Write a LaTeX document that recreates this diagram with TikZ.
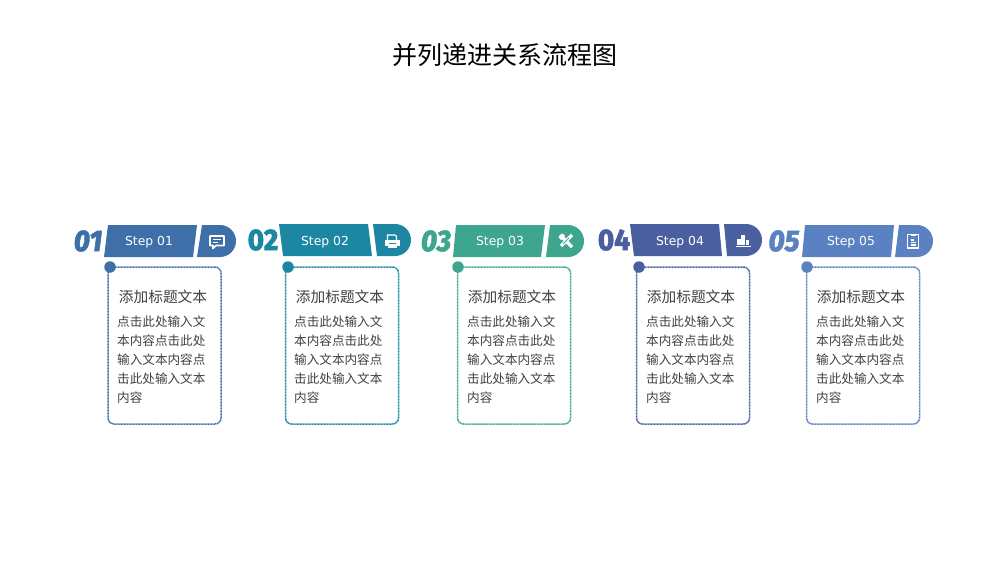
\documentclass[tikz,border=0pt]{standalone}
\usepackage{fontspec}
\setmainfont{DejaVu Sans}
\newfontfamily\cjk{Noto Sans CJK SC}
\newfontfamily\numfont[BoldFont={Fira Sans ExtraBold},BoldItalicFont={Fira Sans ExtraBold Italic},BoldFeatures={FakeBold=1.5},BoldItalicFeatures={FakeBold=1.5}]{Fira Sans}
\usetikzlibrary{positioning}
\definecolor{stepa}{HTML}{3E6FA8}
\definecolor{stepb}{HTML}{1B87A3}
\definecolor{stepc}{HTML}{3EA68F}
\definecolor{stepd}{HTML}{4A5FA0}
\definecolor{stepe}{HTML}{5A82C2}
\definecolor{bodygray}{HTML}{404040}
\newcommand{\bodytext}{点击此处输入文\\本内容点击此处\\输入文本内容点\\击此处输入文本\\内容}
\tikzset{
	title/.style={font=\cjk\fontsize{25}{30}\selectfont,text=black},
	steplabel/.style={font=\fontsize{12.4}{15}\selectfont,text=white},
	numup/.style={font=\numfont\bfseries\fontsize{30}{32}\selectfont,xscale=.92,inner sep=0pt},
	numit/.style={numup,font=\numfont\bfseries\itshape\fontsize{30}{32}\selectfont},
	card/.style={draw,rounded corners=6pt,line width=1.5pt,dash pattern=on 1pt off .5pt,minimum width=113pt,minimum height=157pt,inner sep=0pt},
	dot/.style={circle,fill,inner sep=0pt,minimum size=11.5pt},
	head/.style={font=\cjk\fontsize{14.7}{18}\selectfont,text=bodygray},
	body/.style={font=\cjk\fontsize{12.6}{19}\selectfont,text=bodygray,align=left,anchor=north west,inner sep=0pt},
	chaticon/.pic={
		\draw[white,line width=1.7pt,line join=round] (-7,-6) -- (7,-6) -- (7,3.5) -- (-1,3.5) -- (-4,6.5) -- (-4,3.5) -- (-7,3.5) -- cycle;
		\draw[white,line width=1.3pt] (-4,-2.5) -- (4,-2.5) (-4,.5) -- (1,.5);
	},
	printicon/.pic={
		\fill[white] (-7.5,-1) rectangle (7.5,5);
		\fill[white] (-4.5,6.5) rectangle (4.5,3);
		\draw[white,line width=1.4pt] (-4.5,-1) -- (-4.5,-6) -- (3,-6) -- (4.5,-4.5) -- (4.5,-1);
		\fill[stepb] (-3.5,2.2) rectangle (3.5,3.4);
	},
	toolicon/.pic={
		\draw[white,line width=3.4pt] (-6,-6) -- (6,6);
		\draw[white,line width=3.4pt] (6,-6) -- (-5,5);
		\fill[white] (-7.5,-3.5) -- (-3.5,-7.5) -- (-1,-5) -- (-5,-1) -- cycle;
		\draw[stepc,line width=.8pt] (-3,3) -- (3,-3);
	},
	charticon/.pic={
		\fill[white] (-6,4) rectangle (-2.5,-2);
		\fill[white] (-1.8,4) rectangle (1.8,-6);
		\fill[white] (2.5,4) rectangle (6,-1);
		\fill[white] (-7.5,5) rectangle (7.5,6.3);
	},
	docicon/.pic={
		\draw[white,line width=1.6pt] (-5.5,-6.5) rectangle (5.5,7);
		\fill[white] (-2.5,-7.5) rectangle (2.5,-5);
		\draw[white,line width=1.1pt] (-2.5,-1) -- (1,-1) (-2.5,1.5) -- (3,1.5) (-2.5,4) -- (3,4);
	}
}
\begin{document}
\begin{tikzpicture}[x=1pt,y=-1pt]
	\useasboundingbox (0,0) rectangle (1000,563);
	\node[title] (main) at (505,55) {并列递进关系流程图};
	% step 01
	\fill[stepa] (108,225) -- (197,225) -- (193,257) -- (104,257) -- cycle;
	\fill[stepa] (202,225) -- (220,225) arc (-90:90:16) -- (197,257) -- cycle;
	\node[numit,text=stepa] (numa) at (88,241) {01};
	\node[steplabel] (stepa) at (149,242) {Step 01};
	\pic at (217,242) {chaticon};
	\node[card,draw=stepa] (carda) at (164.5,345.5) {};
	\node[dot,fill=stepa] (dota) at (110,267) {};
	\node[head] (heada) at (163,297) {添加标题文本};
	\node[body] (bodya) at (117,316) {\bodytext};
	% step 02
	\fill[stepb] (279,224) -- (368,224) -- (372,256) -- (283,256) -- cycle;
	\fill[stepb] (373,224) -- (395,224) arc (-90:90:16) -- (377,256) -- cycle;
	\node[numup,text=stepb] (numb) at (263,240) {02};
	\node[steplabel] (stepb) at (325,242) {Step 02};
	\pic at (392,241) {printicon};
	\node[card,draw=stepb] (cardb) at (342,345.5) {};
	\node[dot,fill=stepb] (dotb) at (288,267) {};
	\node[head] (headb) at (340,297) {添加标题文本};
	\node[body] (bodyb) at (294,316) {\bodytext};
	% step 03
	\fill[stepc] (456,225) -- (545,225) -- (541,257) -- (453,257) -- cycle;
	\fill[stepc] (550,225) -- (568,225) arc (-90:90:16) -- (546,257) -- cycle;
	\node[numit,text=stepc] (numc) at (436,241) {03};
	\node[steplabel] (stepc) at (500,242) {Step 03};
	\pic at (566,241) {toolicon};
	\node[card,draw=stepc] (cardc) at (514,345.5) {};
	\node[dot,fill=stepc] (dotc) at (458,267) {};
	\node[head] (headc) at (512,297) {添加标题文本};
	\node[body] (bodyc) at (467,316) {\bodytext};
	% step 04
	\fill[stepd] (630,224) -- (719,224) -- (722,256) -- (634,256) -- cycle;
	\fill[stepd] (724,224) -- (746,224) arc (-90:90:16) -- (727,256) -- cycle;
	\node[numup,text=stepd] (numd) at (614,240) {04};
	\node[steplabel] (stepd) at (680,242) {Step 04};
	\pic at (743,241) {charticon};
	\node[card,draw=stepd] (cardd) at (693,345.5) {};
	\node[dot,fill=stepd] (dotd) at (639,267) {};
	\node[head] (headd) at (691,297) {添加标题文本};
	\node[body] (bodyd) at (646,316) {\bodytext};
	% step 05
	\fill[stepe] (805,225) -- (894,225) -- (891,257) -- (802,257) -- cycle;
	\fill[stepe] (899,225) -- (917,225) arc (-90:90:16) -- (895,257) -- cycle;
	\node[numit,text=stepe] (nume) at (784,241) {05};
	\node[steplabel] (stepe) at (851,242) {Step 05};
	\pic at (913,241) {docicon};
	\node[card,draw=stepe] (carde) at (863,345.5) {};
	\node[dot,fill=stepe] (dote) at (807,267) {};
	\node[head] (heade) at (861,297) {添加标题文本};
	\node[body] (bodye) at (816,316) {\bodytext};
\end{tikzpicture}
\end{document}
